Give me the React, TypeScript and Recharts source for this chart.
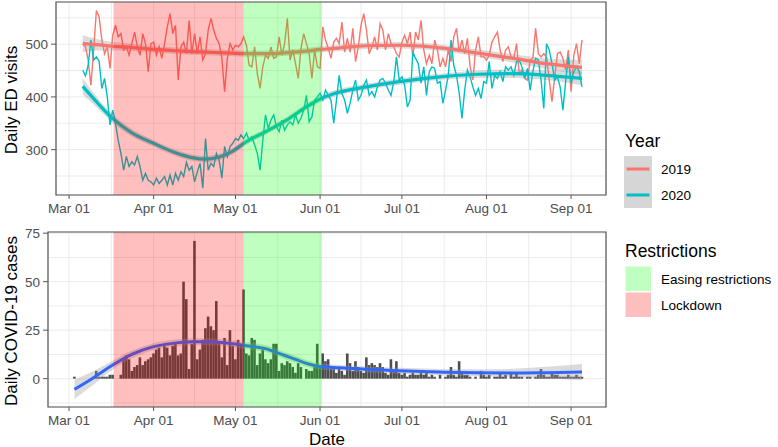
import React from "react";
import { ComposedChart, Line, Area, Bar, XAxis, YAxis, CartesianGrid, ReferenceArea } from "recharts";

// x values are days counted from Mar 01 (2020 calendar)
const dateTicks = [0, 31, 61, 92, 122, 153, 184];
const dateLabels = ["Mar 01", "Apr 01", "May 01", "Jun 01", "Jul 01", "Aug 01", "Sep 01"];
const dateMinor = [15.5, 46, 76.5, 107, 137.5, 168.5];

const visitTicks = [250, 300, 350, 400, 450, 500, 550];
const visitLabels = [300, 400, 500];
const caseTicks = [-12.5, 0, 12.5, 25, 37.5, 50, 62.5, 75];
const caseLabels = [0, 25, 50, 75];

const lockdown = [16.3, 64];
const easing = [64, 92.7];

// daily ED visits, day 5 .. day 188
const firstVisitDay = 5;
const visits2019 = [
  501, 495, 470, 422, 489, 564, 552, 508, 482, 495, 454, 517,
  536, 514, 520, 489, 495, 479, 501, 523, 495, 479, 520, 501, 448, 501, 504, 479, 495, 473, 501, 533,
  558, 520, 536, 432, 495, 504, 482, 545, 482, 520, 482, 514, 470, 482, 527, 549, 527, 511, 501, 473,
  410, 473, 501, 489, 498, 495, 501,
  514, 498, 460, 457, 495, 444, 416, 457, 479, 473, 495, 473, 476, 514, 479, 501, 549, 470, 489, 463,
  435, 492, 520, 501, 482, 435, 489, 457, 454,
  533, 508, 492, 473, 504, 511, 501, 542, 485, 511, 485, 530, 467, 495, 536, 558, 527, 482, 495, 514, 489,
  539, 527, 489, 520, 501, 495, 482, 476, 504, 517, 501, 523, 476, 523, 508, 545, 489, 463, 479, 463,
  508, 489, 457, 473, 457, 489, 467, 514, 530, 485, 508, 482, 511, 457, 432, 489, 514, 476, 476, 470,
  479, 504, 514, 523, 489, 467, 489, 495, 476, 473, 501, 444, 451, 435, 432, 470, 473, 530, 482, 476,
  482, 476, 432, 391, 438, 482, 485, 473, 451, 489, 410, 479, 501, 463, 508,
];
const visits2020 = [
  451, 440, 460, 508, 470, 476, 468, 416, 435, 400, 347, 375,
  350, 318, 293, 261, 287, 268, 277, 271, 287, 268, 242, 255, 242, 239, 233, 246, 236, 242, 249, 233,
  252, 233, 255, 242, 258, 249, 276, 261, 268, 239, 258, 274, 227, 321, 261, 274, 268, 293, 280, 246,
  306, 287, 306, 312, 321, 318, 328,
  321, 331, 318, 324, 309, 293, 261, 318, 366, 340, 356, 366, 343, 334, 356, 337, 347, 353, 347, 366,
  350, 360, 375, 403, 353, 362, 394, 400, 407,
  394, 413, 403, 394, 350, 394, 441, 407, 394, 369, 388, 413, 432, 394, 403, 422, 432, 403, 410, 400, 419,
  432, 435, 426, 413, 403, 429, 476, 432, 438, 422, 381, 394, 485, 473, 463, 426, 457, 403, 448, 457,
  454, 426, 429, 388, 413, 441, 508, 460, 441, 407, 359, 413, 451, 438, 419, 403, 416, 397, 429, 426,
  467, 416, 441, 435, 448, 429, 457, 451, 457, 441, 467, 470, 457, 435, 454, 413, 448, 473, 470, 432,
  378, 501, 489, 463, 432, 438, 419, 375, 429, 476, 426, 448, 457, 448, 419,
];

// loess fits and their confidence half-widths, read at these days
const fitDays = [5, 10, 16, 23, 31, 38, 45, 50, 55, 60, 64, 72, 80, 87, 92, 97, 109, 121, 138, 150, 163, 175, 188];
const fit2019 = [501, 499, 496, 494, 490, 488, 486, 485, 484, 483, 482, 482, 484, 487, 490, 492, 497, 498, 492, 483, 473, 463, 456];
const se2019 = [16, 11, 8, 7, 6, 6, 6, 6, 6, 6, 6, 6, 6, 6, 6, 6, 6, 6, 6, 7, 8, 10, 14];
const fit2020 = [420, 391, 359, 332, 312, 296, 285, 282, 286, 297, 312, 334, 357, 381, 396, 406, 419, 429, 439, 443, 444, 441, 435];
const se2020 = [16, 10, 8, 7, 6, 6, 6, 6, 6, 6, 6, 6, 6, 6, 6, 6, 6, 6, 6, 7, 8, 9, 13];

// daily COVID-19 cases, day 2 .. day 188
const firstCaseDay = 2;
const cases = [
  1, 0, 0, 0, 0, 0, 0, 1, 4, 1, 1, 1, 1, 2, 2, 0, 0,
  2, 10, 12, 10, 4, 6, 7, 11, 7, 9, 10, 11, 13, 15, 16, 11, 17, 16, 12, 17, 18, 12, 13, 50, 41, 5, 18, 71,
  10, 15, 20, 26, 32, 27, 25, 40, 19, 11, 21, 7, 25, 17, 10, 20, 17, 46,
  13, 12, 21, 20, 7, 13, 15, 10, 8, 10, 18, 18, 4, 8, 7, 9, 8, 6, 3, 8, 6, 0, 5, 4, 4, 6, 18, 7,
  13, 9, 10, 5, 6, 3, 5, 4, 2, 13, 8, 4, 9, 6, 4, 3, 11, 7, 8, 7, 6, 8, 6, 3, 2, 10, 4, 9, 3, 2,
  3, 1, 2, 3, 2, 2, 3, 2, 3, 1, 2, 1, 0, 2, 0, 1, 2, 6, 2, 1, 9, 3, 2, 2, 1, 0, 1, 0, 4, 2,
  1, 2, 0, 1, 1, 3, 1, 2, 0, 3, 1, 3, 1, 1, 0, 1, 1, 0, 1, 2, 5, 2, 1, 1, 3, 2, 2, 1, 1, 1,
  2, 1, 1, 2, 1, 1,
];
const caseFitDays = [2, 9, 16, 23, 31, 38, 45, 52, 60, 65, 72, 78, 82, 87, 92, 99, 109, 121, 138, 150, 163, 175, 188];
const caseFit = [-5.5, 0.5, 7, 12.5, 16.5, 18.2, 19, 19, 18, 17, 15.5, 12.5, 10.5, 7.9, 6.3, 5.6, 4.8, 4.1, 3.3, 3.0, 2.9, 3.1, 3.4];
const caseSe = [5, 3.5, 2.3, 2, 1.8, 1.8, 1.8, 1.8, 1.8, 1.8, 1.8, 1.8, 1.8, 1.7, 1.6, 1.5, 1.5, 1.5, 1.6, 1.8, 2.2, 3, 4.2];

const visitRows = visits2019.map((v, i) => ({ day: firstVisitDay + i, y2019: v, y2020: visits2020[i] }));
const fitRows2019 = fitDays.map((d, i) => ({ day: d, fit: fit2019[i], band: [fit2019[i] - se2019[i], fit2019[i] + se2019[i]] }));
const fitRows2020 = fitDays.map((d, i) => ({ day: d, fit: fit2020[i], band: [fit2020[i] - se2020[i], fit2020[i] + se2020[i]] }));
const caseRows = cases.map((c, i) => ({ day: firstCaseDay + i, cases: c }));
const caseFitRows = caseFitDays.map((d, i) => ({ day: d, fit: caseFit[i], band: [caseFit[i] - caseSe[i], caseFit[i] + caseSe[i]] }));

const xTicks = [...dateTicks, ...dateMinor].sort((a, b) => a - b);
const FONT = '"Liberation Sans", Arial, Helvetica, sans-serif';
const TICK_COL = "#4D4D4D";
const EDGE = "#555555";
const RED = "#F8766D";
const TEAL = "#00BFC4";

const DateTick = (props: any) => {
  const { x, y, payload } = props;
  const i = dateTicks.indexOf(payload.value);
  if (i < 0) return <g />;
  return (
    <g>
      <line x1={x} x2={x} y1={y} y2={y + 4} stroke={EDGE} />
      <text x={x} y={y + 18} textAnchor="middle" fontSize={13.5} fontFamily={FONT} fill={TICK_COL}>
        {dateLabels[i]}
      </text>
    </g>
  );
};

const valueTick = (labels: number[]) => (props: any) => {
  const { x, y, payload } = props;
  if (!labels.includes(payload.value)) return <g />;
  return (
    <g>
      <line x1={x - 5} x2={x} y1={y} y2={y} stroke={EDGE} />
      <text x={x - 8} y={y} dy="0.36em" textAnchor="end" fontSize={13.5} fontFamily={FONT} fill={TICK_COL}>
        {payload.value}
      </text>
    </g>
  );
};

const shading = (yMin: number, yMax: number) => [
  <ReferenceArea key="lock" x1={lockdown[0]} x2={lockdown[1]} y1={yMin} y2={yMax} fill="#FF0000" fillOpacity={0.25} stroke="none" zIndex={450} />,
  <ReferenceArea key="ease" x1={easing[0]} x2={easing[1]} y1={yMin} y2={yMax} fill="#00FF00" fillOpacity={0.25} stroke="none" zIndex={450} />,
];

const TOP_X: [number, number] = [-4.8, 196.8];
const TOP_Y: [number, number] = [214, 580];
const BOT_X: [number, number] = [-7.7, 196.8];
const BOT_Y: [number, number] = [-14.6, 75.6];

export default function App() {
  return (
    <div style={{ position: "absolute", left: 0, top: 0, width: 778, height: 447, background: "#fff", fontFamily: FONT }}>
      <div style={{ position: "absolute", left: 0, top: 0 }}>
        <ComposedChart width={620} height={220} data={visitRows} margin={{ top: 2, right: 14, left: 0, bottom: 0 }}>
          <CartesianGrid stroke="#EBEBEB" strokeWidth={1} />
          <XAxis dataKey="day" type="number" domain={TOP_X} allowDataOverflow ticks={xTicks} interval={0}
            tick={DateTick} tickLine={false} axisLine={false} tickSize={0} tickMargin={0} height={25} />
          <YAxis type="number" domain={TOP_Y} allowDataOverflow ticks={visitTicks} interval={0}
            tick={valueTick(visitLabels)} tickLine={false} axisLine={false} tickSize={0} tickMargin={0} width={56} />
          <Area data={fitRows2019} dataKey="band" type="monotone" fill="#999999" fillOpacity={0.35} stroke="none" isAnimationActive={false} zIndex={300} />
          <Area data={fitRows2020} dataKey="band" type="monotone" fill="#999999" fillOpacity={0.35} stroke="none" isAnimationActive={false} zIndex={300} />
          <Line dataKey="y2019" stroke={RED} strokeWidth={1.4} dot={false} isAnimationActive={false} zIndex={400} />
          <Line dataKey="y2020" stroke={TEAL} strokeWidth={1.4} dot={false} isAnimationActive={false} zIndex={400} />
          <Line data={fitRows2019} dataKey="fit" type="monotone" stroke={RED} strokeWidth={3.2} dot={false} isAnimationActive={false} zIndex={420} />
          <Line data={fitRows2020} dataKey="fit" type="monotone" stroke={TEAL} strokeWidth={3.2} dot={false} isAnimationActive={false} zIndex={420} />
          {shading(TOP_Y[0], TOP_Y[1])}
          <ReferenceArea x1={TOP_X[0]} x2={TOP_X[1]} y1={TOP_Y[0]} y2={TOP_Y[1]} fill="none" stroke={EDGE} strokeWidth={1.2} zIndex={460} />
        </ComposedChart>
      </div>

      <div style={{ position: "absolute", left: 0, top: 225 }}>
        <ComposedChart width={620} height={207} data={caseRows} margin={{ top: 7, right: 14, left: 0, bottom: 0 }}>
          <CartesianGrid stroke="#EBEBEB" strokeWidth={1} />
          <XAxis dataKey="day" type="number" domain={BOT_X} allowDataOverflow ticks={xTicks} interval={0}
            tick={DateTick} tickLine={false} axisLine={false} tickSize={0} tickMargin={0} height={25} />
          <YAxis type="number" domain={BOT_Y} allowDataOverflow ticks={caseTicks} interval={0}
            tick={valueTick(caseLabels)} tickLine={false} axisLine={false} tickSize={0} tickMargin={0} width={48} />
          <Bar dataKey="cases" fill="#4D4D4D" barSize={2.6} isAnimationActive={false} zIndex={300} />
          <Area data={caseFitRows} dataKey="band" type="monotone" fill="#999999" fillOpacity={0.35} stroke="none" isAnimationActive={false} zIndex={350} />
          <Line data={caseFitRows} dataKey="fit" type="monotone" stroke="#3366FF" strokeWidth={3} dot={false} isAnimationActive={false} zIndex={420} />
          {shading(BOT_Y[0], BOT_Y[1])}
          <ReferenceArea x1={BOT_X[0]} x2={BOT_X[1]} y1={BOT_Y[0]} y2={BOT_Y[1]} fill="none" stroke={EDGE} strokeWidth={1.2} zIndex={460} />
        </ComposedChart>
      </div>

      <svg width={778} height={447} style={{ position: "absolute", left: 0, top: 0, pointerEvents: "none" }} fontFamily={FONT}>
        <text transform="translate(16.5,100) rotate(-90)" textAnchor="middle" fontSize={17}>Daily ED visits</text>
        <text transform="translate(16.5,321) rotate(-90)" textAnchor="middle" fontSize={17}>Daily COVID-19 cases</text>
        <text x={327} y={444.5} textAnchor="middle" fontSize={17}>Date</text>

        <text x={625} y={147} fontSize={17.5}>Year</text>
        <rect x={624} y={156} width={28} height={52} fill="#D6D6D6" />
        <line x1={626.5} x2={649.5} y1={169} y2={169} stroke={RED} strokeWidth={3} />
        <line x1={626.5} x2={649.5} y1={195} y2={195} stroke={TEAL} strokeWidth={3} />
        <text x={661} y={174} fontSize={13.5}>2019</text>
        <text x={661} y={200} fontSize={13.5}>2020</text>

        <text x={625} y={256.5} fontSize={17.5}>Restrictions</text>
        <rect x={625.5} y={266.5} width={25.5} height={24.5} fill="#00FF00" fillOpacity={0.25} />
        <rect x={625.5} y={292.5} width={25.5} height={24.5} fill="#FF0000" fillOpacity={0.25} />
        <text x={661} y={283.5} fontSize={13.5}>Easing restrictions</text>
        <text x={661} y={309.5} fontSize={13.5}>Lockdown</text>
      </svg>
    </div>
  );
}
